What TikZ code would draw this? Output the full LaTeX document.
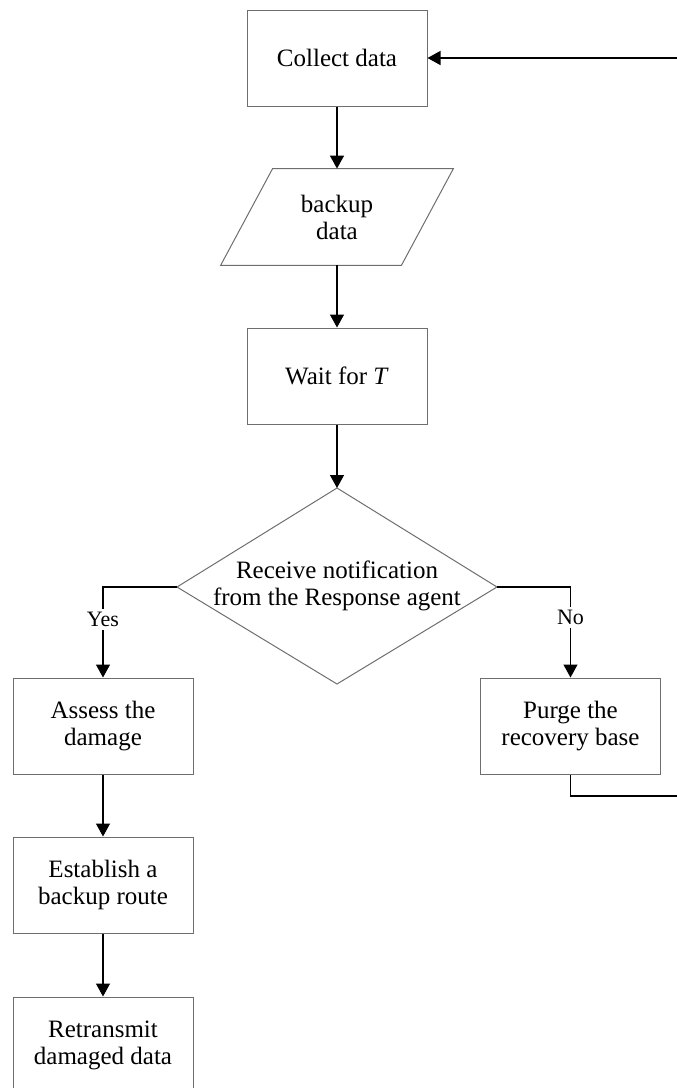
\documentclass[tikz,border=0pt]{standalone}
\usepackage{fontspec}
\setmainfont{Liberation Serif}
\usetikzlibrary{arrows.meta}
\definecolor{boxgray}{HTML}{6E6E6E}
\begin{document}
\begin{tikzpicture}[x=0.5pt,y=-0.5pt,
  every node/.style={font=\fontsize{12.5}{13.5}\selectfont, align=center, inner sep=0pt},
  stepbox/.style={draw=boxgray, line width=0.5pt, fill=white, minimum width=90pt, minimum height=48pt},
  outline/.style={draw=boxgray, line width=0.5pt},
  flow/.style={draw=black, line width=0.65pt, -{Triangle[length=6.5pt,width=7pt]}},
  answer/.style={font=\fontsize{11}{12}\selectfont, fill=white, inner sep=1.5pt}
]
\useasboundingbox (0,0) rectangle (676,1088);

% process steps
\node[stepbox] (collect) at (337,58) {Collect data};
\node[minimum width=90pt, minimum height=48pt] (backup) at (337,217) {backup\\data};
\draw[outline] ([xshift=-13pt]backup.south west) -- ([xshift=13pt]backup.north west)
  -- ([xshift=13pt]backup.north east) -- ([xshift=-13pt]backup.south east) -- cycle;
\node[stepbox] (wait) at (337,376) {Wait for \textit{T}};

% decision
\coordinate (dtop) at (337,488);
\coordinate (dright) at (497,587);
\coordinate (dbot) at (337,684);
\coordinate (dleft) at (177,587);
\draw[outline] (dtop) -- (dright) -- (dbot) -- (dleft) -- cycle;
\node (decision) at (337,586) {Receive notification\\from the Response agent};

% branches
\node[stepbox] (assess) at (103,726) {Assess the\\damage};
\node[stepbox] (purge) at (570.5,726) {Purge the\\recovery base};
\node[stepbox] (route) at (103,885) {Establish a\\backup route};
\node[stepbox] (resend) at (103,1045) {Retransmit\\damaged data};

% connectors
\draw[flow] (collect.south) -- (backup.north);
\draw[flow] (backup.south) -- (wait.north);
\draw[flow] (wait.south) -- (dtop);
\draw[flow] (dleft) -| node[answer, pos=0.68] {Yes} (assess.north);
\draw[flow] (dright) -| node[answer, pos=0.67] {No} (purge.north);
\draw[flow] (assess.south) -- (route.north);
\draw[flow] (route.south) -- (resend.north);

% loop back to the start
\coordinate (loopcorner) at (680,796);
\coordinate (looptop) at (680,58);
\draw[flow] (purge.south) |- (loopcorner) -- (looptop) -- (collect.east);
\end{tikzpicture}
\end{document}
